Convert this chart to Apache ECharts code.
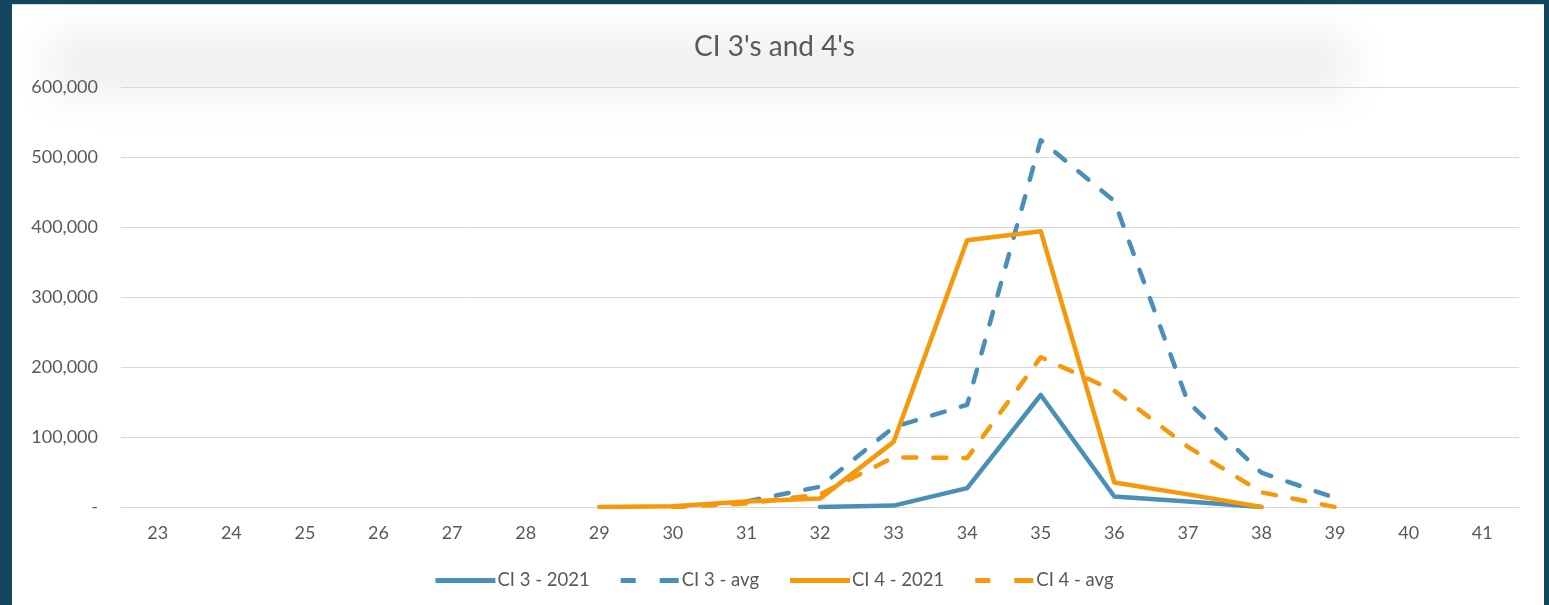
<!DOCTYPE html>
<html>
<head>
<meta charset="utf-8">
<script src="https://cdn.jsdelivr.net/npm/echarts@6/dist/echarts.min.js"></script>
<style>
  html, body { margin: 0; padding: 0; background: #14455f; }
  #frame { position: absolute; left: 12px; top: 4px; width: 1532px; height: 601px; background: #fff; border-top: 1px solid #d8d8d8; }
  #chart { position: absolute; left: -12px; top: -5px; width: 1549px; height: 605px; }
</style>
</head>
<body>
<div id="frame"><div id="chart"></div></div>
<script>
// week numbers on the x axis
const weeks = ['23', '24', '25', '26', '27', '28', '29', '30', '31', '32', '33', '34', '35', '36', '37', '38', '39', '40', '41']

// values (null = no point)
const ci3_2021 = [null, null, null, null, null, null, null, null, null, 0, 2000, 27000, 160000, 15000, 8000, 0, null, null, null]
const ci3_avg = [null, null, null, null, null, null, null, null, 8000, 29000, 114000, 146000, 524000, 437000, 150000, 49000, 13000, null, null]
const ci4_2021 = [null, null, null, null, null, null, 0, 1000, 8000, 12000, 93000, 381000, 394000, 35000, 18000, 0, null, null, null]
const ci4_avg = [null, null, null, null, null, null, null, 0, 5000, 18000, 71000, 70000, 214000, 166000, 86000, 21000, 0, null, null]

const yTicks = [0, 100000, 200000, 300000, 400000, 500000, 600000]

const blue = '#4a8fba'
const orange = '#f5980a'
const textColor = '#595959'
const font = 'Lato, "Open Sans", sans-serif'

// legend icons: a solid bar and two dashes
const solidIcon = 'path://M0,0H60V5H0Z'
const dashIcon = 'path://M0,0H15V5H0Z M39,0H58V5H39Z'

const chart = echarts.init(document.getElementById('chart'))

const makeSeries = (name, data, color, dashed) => ({
  name,
  type: 'line',
  data,
  symbol: 'none',
  connectNulls: false,
  z: 3,
  lineStyle: {
    width: 4.5,
    color,
    type: dashed ? [13, 17] : 'solid',
    cap: 'round',
    join: 'round',
  },
  itemStyle: { color },
  emphasis: { disabled: true },
})

chart.setOption({
  animation: false,
  textStyle: { fontFamily: font },
  title: {
    text: "CI 3's and 4's",
    left: 'center',
    top: 28,
    textStyle: { fontSize: 28, fontWeight: 'normal', color: textColor, fontFamily: font },
  },
  // soft grey smudge behind the top of the plot: only the blurred shadow of an off-screen box shows
  graphic: [
    {
      type: 'rect',
      z: -10,
      silent: true,
      shape: { x: 50, y: -300, width: 1300, height: 60 },
      style: { fill: '#000', shadowBlur: 45, shadowOffsetY: 335, shadowColor: 'rgba(0,0,0,0.07)' },
    },
  ],
  legend: {
    top: 566,
    left: 'center',
    itemWidth: 60,
    itemHeight: 5,
    itemGap: 31,
    textStyle: { fontSize: 18.5, color: textColor, fontFamily: font, padding: [0, 0, 0, -3] },
    data: [
      { name: 'CI 3 - 2021', icon: solidIcon },
      { name: 'CI 3 - avg', icon: dashIcon },
      { name: 'CI 4 - 2021', icon: solidIcon },
      { name: 'CI 4 - avg', icon: dashIcon },
    ],
  },
  grid: { left: 121, right: 30, top: 87, bottom: 98 },
  xAxis: {
    type: 'category',
    data: weeks,
    boundaryGap: true,
    axisLine: { lineStyle: { color: '#d9d9d9', width: 1 } },
    axisTick: { show: false },
    axisLabel: { color: textColor, fontSize: 18, margin: 17, fontFamily: font },
  },
  yAxis: {
    type: 'value',
    min: yTicks[0],
    max: yTicks[yTicks.length - 1],
    interval: 100000,
    splitLine: { lineStyle: { color: '#d9d9d9', width: 1 } },
    axisLine: { show: false },
    axisTick: { show: false },
    axisLabel: {
      color: textColor,
      fontSize: 18,
      margin: 23,
      fontFamily: font,
      formatter: v => (v === 0 ? '-' : v.toLocaleString('en-US')),
    },
  },
  series: [
    makeSeries('CI 3 - 2021', ci3_2021, blue, false),
    makeSeries('CI 3 - avg', ci3_avg, blue, true),
    makeSeries('CI 4 - 2021', ci4_2021, orange, false),
    makeSeries('CI 4 - avg', ci4_avg, orange, true),
  ],
})
</script>
</body>
</html>
